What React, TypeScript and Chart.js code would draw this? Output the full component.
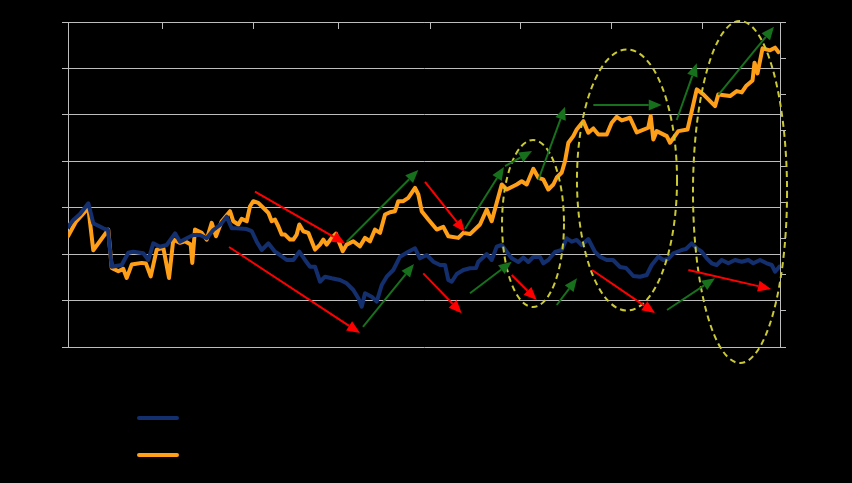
import React, { useEffect, useRef } from "react";
import { Chart, registerables } from "chart.js";

Chart.register(...registerables);

// ---- data (x in months from start, y in axis units) ----
const seriesNames = ["Series 1", "Series 2"];
const yearLabels = ["2003", "2004", "2005", "2006", "2007", "2008", "2009", "2010", "2011"];
const yearTickMonths = [0, 12.49, 24.71, 36, 48.21, 60.2, 72.44, 84.49, 94.93];

const blueMonths = [
  0, 0.71, 1.6, 2.71, 3.37, 4.71, 5.33, 5.83, 7.16, 8.04,
  8.71, 10.04, 10.71, 11.37, 12.27, 13.16, 14.27, 14.93, 15.83, 16.71,
  17.6, 18.49, 19.37, 20.27, 21.16, 21.83, 22.49, 23.83, 24.49, 25.16,
  25.83, 26.71, 27.6, 28.27, 29.16, 30.04, 30.84, 31.6, 32.27, 32.93,
  33.6, 34.27, 35.16, 36.27, 37.16, 38.04, 38.71, 39.16, 39.6, 40.49,
  41.16, 41.83, 42.49, 43.37, 44.27, 45.37, 46.27, 46.93, 47.83, 48.71,
  49.6, 50.27, 50.71, 51.16, 51.83, 52.71, 53.6, 54.4, 54.71, 55.83,
  56.49, 57.16, 57.83, 58.49, 59.16, 60.04, 60.71, 61.37, 62.04, 62.93,
  63.37, 64.04, 64.93, 65.83, 66.49, 67.16, 67.83, 68.49, 69.37, 70.27,
  70.93, 71.83, 72.67, 73.6, 74.4, 75.37, 76.27, 77.16, 77.83, 78.71,
  79.37, 80, 80.71, 81.83, 82.4, 83.16, 83.83, 84.49, 85.16, 85.83,
  86.49, 87.16, 88.04, 88.93, 89.83, 90.71, 91.37, 92.27, 93.16, 93.83,
  94.27, 94.84,
];
const blueValues = [
  25.91, 27.35, 28.65, 30.95, 26.64, 25.57, 25.2, 17.3, 17.66, 20.31,
  20.53, 20.18, 18.74, 22.33, 21.6, 21.97, 24.49, 22.68, 23.41, 24.12,
  24.12, 23.41, 25.2, 26.28, 28.06, 25.57, 25.57, 25.41, 24.98, 22.68,
  20.89, 22.33, 20.53, 19.81, 18.74, 18.74, 20.53, 18.74, 17.3, 17.3,
  14.06, 15.14, 14.8, 14.43, 13.72, 12.28, 10.49, 8.68, 11.57, 10.83,
  9.76, 13.35, 15.14, 16.58, 19.45, 20.53, 21.26, 19.1, 19.81, 18.37,
  17.66, 17.66, 14.43, 14.06, 15.72, 16.58, 16.95, 17.02, 18.37, 20.03,
  18.74, 21.6, 21.97, 20.53, 19.1, 18.31, 19.28, 18.31, 19.38, 19.38,
  18.03, 18.74, 20.46, 20.89, 23.41, 22.68, 23.05, 21.97, 23.26, 20.46,
  19.45, 18.74, 18.74, 17.23, 17.02, 15.29, 15.14, 15.51, 17.66, 19.45,
  18.74, 18.95, 20.18, 20.89, 21.11, 22.33, 21.26, 20.53, 19.1, 18.03,
  17.66, 18.74, 18.03, 18.74, 18.37, 18.74, 18.03, 18.74, 18.03, 17.66,
  16.22, 17.3,
];

const orangeMonths = [
  0, 1.07, 2.71, 3.37, 5.37, 5.83, 6.71, 7.37, 7.83, 8.49,
  9.83, 10.4, 11.03, 11.83, 12.71, 13.47, 14.04, 14.93, 15.6, 16.36,
  16.57, 16.93, 17.83, 18.49, 19.16, 19.73, 20.49, 21.6, 22.04, 22.71,
  23.16, 23.83, 24.27, 24.71, 25.37, 26.27, 26.71, 27.16, 27.6, 28.04,
  28.49, 28.93, 29.6, 30.04, 30.49, 30.84, 31.37, 32.04, 32.49, 32.93,
  33.6, 34.04, 34.49, 35.16, 35.73, 36.17, 36.63, 37.16, 38.04, 38.93,
  39.6, 40.27, 40.93, 41.6, 42.27, 42.93, 43.6, 44.04, 44.71, 45.37,
  46.27, 46.71, 47.16, 48.04, 49.16, 50.04, 50.71, 52.04, 52.71, 53.6,
  54.93, 55.83, 56.49, 57.16, 57.83, 58.49, 59.83, 60.49, 61.16, 62.04,
  62.71, 63.37, 64.04, 64.71, 65.16, 65.83, 66.27, 66.71, 67.37, 67.83,
  68.71, 69.37, 70.04, 70.71, 71.83, 72.49, 73.16, 73.83, 74.93, 75.83,
  77.37, 77.69, 78.04, 78.49, 79.83, 80.27, 81.37, 82.6, 83.83, 84.71,
  86.27, 86.71, 88.27, 89.16, 89.83, 90.4, 91.27, 91.53, 91.93, 92.6,
  93.6, 94.27, 94.71,
];
const orangeValues = [
  30.67, 34.74, 38.54, 26.78, 32.52, 21.9, 20.96, 21.63, 19.13, 22.82,
  23.29, 23.1, 19.57, 26.98, 27.45, 19.13, 29.75, 28.84, 29.28, 28.36,
  23.29, 32.52, 31.61, 29.75, 34.38, 30.67, 34.82, 37.6, 34.82, 33.91,
  35.49, 34.82, 38.98, 40.37, 39.93, 38.07, 37.15, 34.82, 35.3, 33.44,
  31.14, 31.14, 29.75, 29.75, 31.14, 33.91, 32.05, 31.61, 29.28, 26.98,
  28.36, 29.75, 28.36, 30.22, 31.41, 28.84, 26.51, 28.36, 29.28, 27.89,
  30.22, 29.28, 32.52, 31.61, 36.68, 37.32, 37.6, 40.37, 40.37, 41.31,
  44.08, 42.23, 37.6, 35.3, 32.52, 33.27, 30.67, 30.22, 31.61, 31.27,
  33.91, 38.07, 34.82, 39.93, 45.0, 43.61, 45.0, 45.91, 45.0, 49.35,
  46.86, 46.39, 43.61, 45.0, 46.94, 48.33, 51.46, 56.56, 58.39, 60.25,
  62.55, 59.33, 60.53, 58.86, 58.86, 62.11, 63.71, 62.74, 63.49, 59.42,
  60.72, 63.99, 57.48, 59.78, 58.39, 56.56, 59.78, 60.25, 71.34, 69.95,
  66.71, 69.95, 69.48, 70.87, 70.51, 72.25, 73.83, 78.74, 75.78, 82.71,
  82.15, 82.9, 81.68,
];

// Annotations in data units (x: months, y: left axis)
const redArrows = [
  [24.93, 33.45, 36.93, 22.33],
  [21.47, 21.54, 38.93, 3.02],
  [47.6, 35.54, 52.93, 24.77],
  [47.37, 15.87, 52.49, 7.26],
  [59.16, 15.51, 62.49, 10.12],
  [69.87, 16.58, 78.27, 7.32],
  [82.71, 16.58, 93.73, 12.49],
];
const greenArrows = [
  [37.16, 22.68, 46.71, 38.12],
  [39.33, 4.31, 46.13, 17.88],
  [52.93, 25.41, 58.13, 38.77],
  [58.27, 38.98, 61.87, 42.21],
  [62.71, 35.97, 66.27, 51.76],
  [53.6, 11.57, 59.16, 18.37],
  [65.16, 9.05, 67.87, 14.8],
  [70.04, 52.12, 79.16, 52.12],
  [81.16, 48.89, 83.83, 61.1],
  [86.71, 54.28, 94.13, 68.99],
  [79.87, 7.97, 86.27, 14.8],
];
const ellipses = [
  [62.0, 26.6, 4.13, 17.98],
  [74.53, 35.97, 6.67, 28.11],
  [89.6, 33.38, 6.27, 36.83],
];

const BLUE = "#142f6e";
const ORANGE = "#ff9e17";
const GRID = "#bdbdbd";
const RED = "#ff0000";
const GREEN = "#17701c";
const YELLOW = "#c9c936";

function drawArrow(ctx: CanvasRenderingContext2D, x1: number, y1: number, x2: number, y2: number, color: string) {
  const headLen = 13;
  const headW = 11;
  const ang = Math.atan2(y2 - y1, x2 - x1);
  const bx = x2 - headLen * Math.cos(ang);
  const by = y2 - headLen * Math.sin(ang);
  ctx.strokeStyle = color;
  ctx.lineWidth = 2;
  ctx.setLineDash([]);
  ctx.beginPath();
  ctx.moveTo(x1, y1);
  ctx.lineTo(bx, by);
  ctx.stroke();
  ctx.fillStyle = color;
  ctx.beginPath();
  ctx.moveTo(x2, y2);
  ctx.lineTo(bx + (headW / 2) * Math.sin(ang), by - (headW / 2) * Math.cos(ang));
  ctx.lineTo(bx - (headW / 2) * Math.sin(ang), by + (headW / 2) * Math.cos(ang));
  ctx.closePath();
  ctx.fill();
}

const annotationPlugin = {
  id: "annotations",
  beforeDatasetsDraw(chart: any) {
    const ctx = chart.ctx as CanvasRenderingContext2D;
    const xs = chart.scales.x;
    const top = chart.chartArea.top;
    ctx.save();
    ctx.strokeStyle = GRID;
    ctx.lineWidth = 1;
    xs.ticks.forEach((t: any) => {
      const px = Math.round(xs.getPixelForValue(t.value)) + 0.5;
      ctx.beginPath();
      ctx.moveTo(px, top);
      ctx.lineTo(px, top + 7);
      ctx.stroke();
    });
    ctx.restore();
  },
  afterDatasetsDraw(chart: any) {
    const ctx = chart.ctx as CanvasRenderingContext2D;
    const xs = chart.scales.x;
    const ys = chart.scales.y;
    ctx.save();
    // ellipses
    ctx.strokeStyle = YELLOW;
    ctx.lineWidth = 2;
    ctx.setLineDash([6, 4]);
    ellipses.forEach(([cx, cy, rx, ry]) => {
      const pcx = xs.getPixelForValue(cx);
      const pcy = ys.getPixelForValue(cy);
      const prx = Math.abs(xs.getPixelForValue(cx + rx) - pcx);
      const pry = Math.abs(ys.getPixelForValue(cy + ry) - pcy);
      ctx.beginPath();
      ctx.ellipse(pcx, pcy, prx, pry, 0, 0, Math.PI * 2);
      ctx.stroke();
    });
    ctx.setLineDash([]);
    redArrows.forEach(([a, b, c, d]) =>
      drawArrow(ctx, xs.getPixelForValue(a), ys.getPixelForValue(b), xs.getPixelForValue(c), ys.getPixelForValue(d), RED)
    );
    greenArrows.forEach(([a, b, c, d]) =>
      drawArrow(ctx, xs.getPixelForValue(a), ys.getPixelForValue(b), xs.getPixelForValue(c), ys.getPixelForValue(d), GREEN)
    );
    ctx.restore();
  },
};

export default function App() {
  const canvasRef = useRef<HTMLCanvasElement | null>(null);

  useEffect(() => {
    if (!canvasRef.current) return;
    const blueData = blueMonths.map((m, i) => ({ x: m, y: blueValues[i] }));
    const orangeData = orangeMonths.map((m, i) => ({ x: m, y: orangeValues[i] }));
    const tickFont = { family: "Arial, 'Liberation Sans', sans-serif", size: 12 };
    const chart = new Chart(canvasRef.current, {
      type: "line",
      data: {
        datasets: [
          {
            label: seriesNames[0],
            data: blueData,
            borderColor: BLUE,
            backgroundColor: BLUE,
            borderWidth: 4,
            pointRadius: 0,
            tension: 0,
            yAxisID: "y",
            borderJoinStyle: "round",
            borderCapStyle: "round",
          },
          {
            label: seriesNames[1],
            data: orangeData,
            borderColor: ORANGE,
            backgroundColor: ORANGE,
            borderWidth: 4,
            pointRadius: 0,
            tension: 0,
            yAxisID: "y2",
            borderJoinStyle: "round",
            borderCapStyle: "round",
          },
        ],
      },
      options: {
        responsive: false,
        animation: false,
        layout: { padding: { left: 8, right: 12, top: 2, bottom: 136 } },
        plugins: { legend: { display: false }, tooltip: { enabled: false } },
        scales: {
          x: {
            type: "linear",
            position: "top",
            min: 0,
            max: 94.93,
            afterBuildTicks: (scale: any) => {
              scale.ticks = yearTickMonths.map((v) => ({ value: v }));
            },
            afterFit: (scale: any) => {
              scale.height = 20;
            },
            ticks: {
              color: "#000",
              font: tickFont,
              maxRotation: 0,
              autoSkip: false,
              callback: (_v: any, i: number) => yearLabels[i] ?? "",
            },
            grid: { drawOnChartArea: false, drawTicks: false },
            border: { display: true, color: GRID, width: 1 },
          },
          y: {
            type: "linear",
            position: "left",
            min: 0,
            max: 70,
            ticks: { stepSize: 10, color: "#000", font: tickFont },
            afterFit: (scale: any) => {
              scale.width = 60;
            },
            grid: { color: GRID, lineWidth: 1, tickLength: 6 },
            border: { display: true, color: GRID, width: 1 },
          },
          y2: {
            type: "linear",
            position: "right",
            min: 0,
            max: 90,
            ticks: { stepSize: 10, color: "#000", font: tickFont },
            afterFit: (scale: any) => {
              scale.width = 60;
            },
            grid: { drawOnChartArea: false, color: GRID, tickLength: 6 },
            border: { display: true, color: GRID, width: 1 },
          },
        },
      },
      plugins: [annotationPlugin],
    } as any);
    return () => chart.destroy();
  }, []);

  const legendItem = (name: string, color: string, top: number) => (
    <div style={{ position: "absolute", left: 137, top, height: 20, display: "flex", alignItems: "center" }}>
      <div style={{ width: 42, height: 4, borderRadius: 2, background: color }} />
      <span style={{ marginLeft: 10, color: "#000", fontFamily: "Arial, 'Liberation Sans', sans-serif", fontSize: 13 }}>
        {name}
      </span>
    </div>
  );

  return (
    <div style={{ position: "fixed", left: 0, top: 0, width: 852, height: 483, background: "#000", overflow: "hidden" }}>
      <canvas ref={canvasRef} width={852} height={483} style={{ display: "block" }} />
      {legendItem(seriesNames[0], BLUE, 408)}
      {legendItem(seriesNames[1], ORANGE, 445)}
    </div>
  );
}
